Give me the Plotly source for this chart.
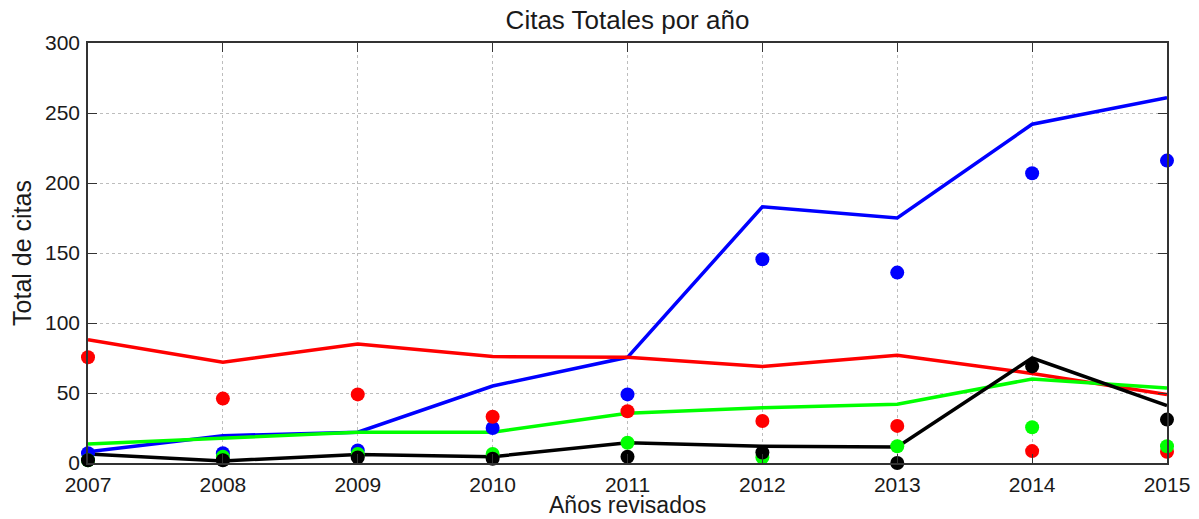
import plotly.graph_objects as go

years = [2007, 2008, 2009, 2010, 2011, 2012, 2013, 2014, 2015]

blue_line = [8, 19.5, 22, 55, 75.5, 183, 175, 242, 261]
blue_dots = [7, 7, 9, 25, 49, 145.5, 136, 207, 216]

red_line = [88, 72, 85, 76, 75.5, 69, 77, 64, 49]
red_dots = [75.5, 46, 49, 33, 37, 30, 26.5, 8.5, 8]

green_line = [13.5, 18, 22, 22, 35.5, 39.5, 42, 60, 53.5]
green_dots = [2, 4.5, 6.5, 6.5, 14.5, 4, 12, 25.5, 12]

black_line = [6.5, 1.5, 6, 4.5, 14.5, 12, 11.5, 75, 41]
black_dots = [2, 2, 4, 3, 4.5, 7.5, 0, 69, 31]

series = [
    ("#0000ff", blue_line, blue_dots),
    ("#ff0000", red_line, red_dots),
    ("#00ff00", green_line, green_dots),
    ("#000000", black_line, black_dots),
]

fig = go.Figure()
for color, line, dots in series:
    fig.add_trace(go.Scatter(x=years, y=line, mode="lines",
                             line=dict(color=color, width=3.5),
                             showlegend=False, cliponaxis=False))
for color, line, dots in series:
    fig.add_trace(go.Scatter(x=years, y=dots, mode="markers",
                             marker=dict(color=color, size=14),
                             showlegend=False, cliponaxis=False))

font_family = "Liberation Sans, Arial, sans-serif"
axis_common = dict(
    showline=True, linecolor="#333333", linewidth=1.5, mirror="ticks",
    ticks="inside", ticklen=9, tickcolor="#333333",
    showgrid=True, gridcolor="#bdbdbd", griddash="dot", gridwidth=1,
    zeroline=False, automargin=False,
    tickfont=dict(family=font_family, size=21, color="#1a1a1a"),
)

fig.update_layout(
    width=1199, height=519,
    paper_bgcolor="white", plot_bgcolor="white",
    margin=dict(l=88, r=32, t=43, b=56),
    title=dict(text="Citas Totales por año", x=0.5, xref="paper", xanchor="center",
               y=1 - 20 / 519, yref="container", yanchor="middle",
               font=dict(family=font_family, size=26, color="#1a1a1a")),
    xaxis=dict(range=[2007, 2015], dtick=1, tick0=2007, ticklabelstandoff=2,
               **axis_common),
    yaxis=dict(range=[0, 300], dtick=50, ticklabelstandoff=2,
               title=dict(text="Total de citas", standoff=6,
                          font=dict(family=font_family, size=25, color="#1a1a1a")),
               **axis_common),
    annotations=[dict(text="Años revisados", xref="paper", yref="paper",
                      x=0.5, y=-42 / 420, xanchor="center", yanchor="middle",
                      showarrow=False,
                      font=dict(family=font_family, size=23, color="#1a1a1a"))],
)

fig.write_html("out.html", config={"displayModeBar": False},
               post_script="document.body.style.margin='0';document.body.style.overflow='hidden';")
